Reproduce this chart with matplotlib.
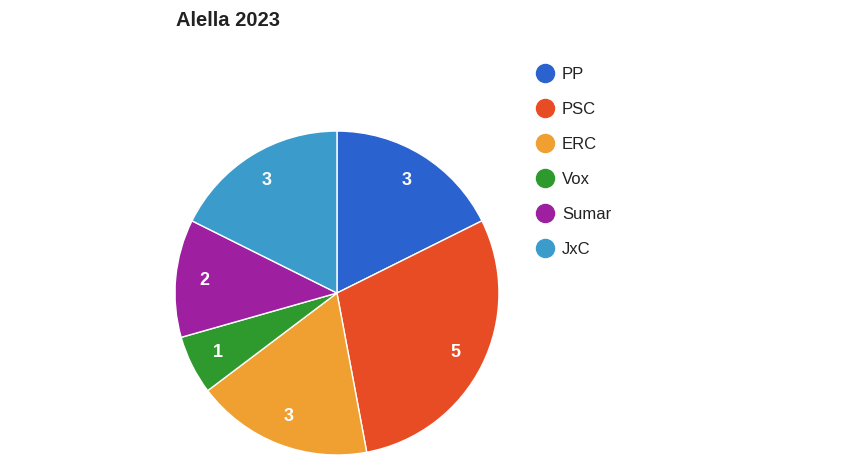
import matplotlib.pyplot as plt
from matplotlib.lines import Line2D

parties = ['PP', 'PSC', 'ERC', 'Vox', 'Sumar', 'JxC']
seats = [3, 5, 3, 1, 2, 3]
colors = ['#2a63cf', '#e84c25', '#f0a030', '#2e9a2e', '#9e1fa0', '#3b9ccc']

fig = plt.figure(figsize=(8.44, 4.75), dpi=100)
ax = fig.add_axes([0.2073, 0.0421, 0.3839, 0.682])

total = sum(seats)
ax.pie(seats, colors=colors, startangle=90, counterclock=False,
       wedgeprops={'edgecolor': 'white', 'linewidth': 1},
       autopct=lambda p: '%d' % round(p * total / 100), pctdistance=0.82,
       textprops={'color': 'white', 'fontsize': 13, 'fontweight': 'bold',
                  'family': 'Liberation Sans'})
ax.set_xlim(-1, 1)
ax.set_ylim(-1, 1)
ax.set_aspect('equal')

fig.text(176 / 844, 1 - 21 / 475, 'Alella 2023', fontsize=14.5, fontweight='bold',
         color='#222222', va='center', ha='left', family='Liberation Sans')

handles = [Line2D([], [], marker='o', linestyle='', markersize=13,
                  markerfacecolor=c, markeredgecolor=c) for c in colors]
fig.legend(handles, parties, loc='upper left', bbox_to_anchor=(521 / 844, 1 - 52 / 475),
           frameon=False, prop={'family': 'Liberation Sans', 'size': 12},
           labelspacing=1.2, handletextpad=0.45, handlelength=1.1, labelcolor='#222222')

fig.savefig('out.png', dpi=100)
